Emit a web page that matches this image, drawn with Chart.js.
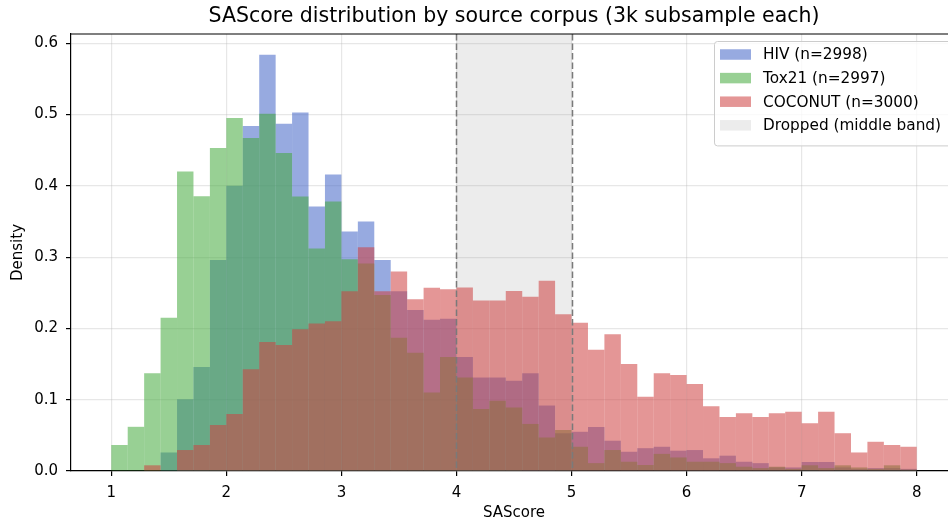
<!DOCTYPE html>
<html><head><meta charset="utf-8">
<script src="https://cdn.jsdelivr.net/npm/chart.js@4/dist/chart.umd.min.js"></script>
<style>html,body{margin:0;padding:0;overflow:hidden;background:#fff}</style>
</head><body>
<canvas id="c" width="960" height="523"></canvas>
<script>
// ---- data ----
const binStart = 1, binEnd = 8, binCount = 49;
const seriesLabels = ['HIV (n=2998)', 'Tox21 (n=2997)', 'COCONUT (n=3000)'];
const bandLabel = 'Dropped (middle band)';
const droppedBand = [4, 5];
const xTickValues = [1, 2, 3, 4, 5, 6, 7, 8];
const yTickValues = [0, 0.1, 0.2, 0.3, 0.4, 0.5, 0.6];

const hivValues = [
  0, 0, 0, 0.026, 0.1005, 0.146, 0.296, 0.400, 0.484, 0.584,
  0.487, 0.503, 0.371, 0.416, 0.336, 0.350, 0.296, 0.252, 0.226, 0.212,
  0.2135, 0.160, 0.131, 0.131, 0.1266, 0.137, 0.092, 0.053, 0.055, 0.0617,
  0.0425, 0.027, 0.032, 0.034, 0.0285, 0.0294, 0.0178, 0.0215, 0.013, 0.011,
  0.005, 0.005, 0.0126, 0.0126, 0.005, 0.003, 0.004, 0.004, 0.003
];
const tox21Values = [
  0.0365, 0.062, 0.137, 0.215, 0.420, 0.3855, 0.453, 0.495, 0.467, 0.501,
  0.446, 0.385, 0.312, 0.378, 0.297, 0.291, 0.247, 0.187, 0.166, 0.110,
  0.160, 0.131, 0.087, 0.0986, 0.089, 0.066, 0.047, 0.0575, 0.034, 0.011,
  0.0294, 0.013, 0.0084, 0.024, 0.019, 0.013, 0.013, 0.011, 0.006, 0.004,
  0.006, 0.003, 0.008, 0.004, 0.008, 0.005, 0.003, 0.008, 0.002
];
const coconutValues = [
  0, 0, 0.008, 0, 0.0294, 0.0365, 0.0645, 0.080, 0.1426, 0.181,
  0.1767, 0.199, 0.207, 0.210, 0.252, 0.314, 0.252, 0.280, 0.241, 0.257,
  0.255, 0.2575, 0.239, 0.239, 0.2524, 0.2445, 0.267, 0.220, 0.208, 0.170,
  0.192, 0.150, 0.104, 0.137, 0.1346, 0.122, 0.091, 0.0757, 0.081, 0.0757,
  0.081, 0.083, 0.067, 0.083, 0.053, 0.026, 0.041, 0.0365, 0.034
];

// ---- styles ----
const seriesColors = ['rgba(66,100,199,0.55)', 'rgba(68,170,60,0.55)', 'rgba(206,64,64,0.55)'];
const bandColor = 'rgba(128,128,128,0.15)';
const FONT = 'DejaVu Sans';
Chart.defaults.font.family = FONT;
Chart.defaults.color = '#000';

const binWidth = (binEnd - binStart) / binCount;
const centers = Array.from({length: binCount}, (_, i) => binStart + (i + 0.5) * binWidth);
const toPoints = vals => vals.map((v, i) => ({x: centers[i], y: v}));

const allValues = [hivValues, tox21Values, coconutValues];
const datasets = allValues.map((vals, k) => ({
  label: seriesLabels[k],
  data: toPoints(vals),
  backgroundColor: seriesColors[k],
  borderWidth: 0,
  inflateAmount: 0,
  barPercentage: 1,
  categoryPercentage: 1,
  grouped: false,
  order: 3 - k
}));

const bandPlugin = {
  id: 'band',
  beforeDatasetsDraw(chart) {
    const {ctx, chartArea, scales: {x}} = chart;
    const x0 = x.getPixelForValue(droppedBand[0]), x1 = x.getPixelForValue(droppedBand[1]);
    ctx.save();
    ctx.fillStyle = bandColor;
    ctx.fillRect(x0, chartArea.top, x1 - x0, chartArea.bottom - chartArea.top);
    ctx.restore();
  },
  afterDatasetsDraw(chart) {
    const {ctx, chartArea, scales: {x}} = chart;
    ctx.save();
    ctx.strokeStyle = '#7a7a7a';
    ctx.lineWidth = 1.5;
    ctx.setLineDash([6.5, 3]);
    droppedBand.forEach(v => {
      const px = Math.round(x.getPixelForValue(v)) + 0.5;
      ctx.beginPath();
      ctx.moveTo(px, chartArea.top);
      ctx.lineTo(px, chartArea.bottom);
      ctx.stroke();
    });
    ctx.restore();
  },
  afterDraw(chart) {
    const {ctx, chartArea} = chart;
    ctx.save();
    // top and right spines
    ctx.strokeStyle = '#000';
    ctx.lineWidth = 1.2;
    ctx.beginPath();
    ctx.moveTo(chartArea.left, chartArea.top);
    ctx.lineTo(chartArea.right, chartArea.top);
    ctx.lineTo(chartArea.right, chartArea.bottom);
    ctx.stroke();

    // legend
    const fs = 15.3;
    ctx.font = fs + 'px "' + FONT + '"';
    const items = seriesLabels.map((l, k) => ({label: l, color: seriesColors[k]}));
    items.push({label: bandLabel, color: bandColor});
    const maxW = Math.max(...items.map(it => ctx.measureText(it.label).width));
    const pad = 6, handleW = 31, handleH = 10.5, gap = 12, rowH = 23.6;
    const boxW = pad + handleW + gap + maxW + pad + 4;
    const boxH = pad * 2 + rowH * items.length - 2;
    const left = 714;
    const top = chartArea.top + 7;
    ctx.beginPath();
    if (ctx.roundRect) ctx.roundRect(left + 0.5, top + 0.5, boxW, boxH, 3); else ctx.rect(left + 0.5, top + 0.5, boxW, boxH);
    ctx.fillStyle = 'rgba(255,255,255,0.8)';
    ctx.fill();
    ctx.strokeStyle = '#cccccc';
    ctx.lineWidth = 1;
    ctx.stroke();
    ctx.textBaseline = 'middle';
    ctx.textAlign = 'left';
    items.forEach((it, k) => {
      const cy = top + 13.5 + k * rowH;
      ctx.fillStyle = it.color;
      ctx.fillRect(left + pad, cy - handleH / 2, handleW, handleH);
      ctx.fillStyle = '#000';
      ctx.fillText(it.label, left + pad + handleW + gap, cy + 1);
    });
    ctx.restore();
  }
};

const gridColor = 'rgba(176,176,176,0.3)';

new Chart(document.getElementById('c'), {
  type: 'bar',
  data: {datasets},
  plugins: [bandPlugin],
  options: {
    responsive: false,
    animation: false,
    layout: {padding: {left: 0, right: 3, top: 0, bottom: 0}},
    plugins: {
      legend: {display: false},
      tooltip: {enabled: false},
      title: {
        display: true,
        fullSize: false,
        text: 'SAScore distribution by source corpus (3k subsample each)',
        font: {family: FONT, size: 20.5, weight: 'normal'},
        color: '#000',
        padding: {top: 4, bottom: 5.4}
      }
    },
    scales: {
      x: {
        type: 'linear',
        min: 0.65, max: 8.35,
        offset: false,
        z: 1,
        grid: {color: gridColor, lineWidth: 1.2, offset: false, drawTicks: true, tickColor: '#000', tickLength: 5, tickWidth: 1.2},
        border: {color: '#000', width: 1.2},
        ticks: {font: {family: FONT, size: 15}, color: '#000', padding: 8, maxRotation: 0, autoSkip: false, callback: v => String(v)},
        title: {display: true, text: 'SAScore', font: {family: FONT, size: 15}, color: '#000', padding: {top: 0, bottom: 1}},
        afterBuildTicks: s => { s.ticks = xTickValues.map(v => ({value: v})); },
        afterFit: s => { s.height = 52; }
      },
      y: {
        type: 'linear',
        min: 0, max: 0.613,
        z: 1,
        grid: {color: gridColor, lineWidth: 1.2, drawTicks: true, tickColor: '#000', tickLength: 5, tickWidth: 1.2},
        border: {color: '#000', width: 1.2},
        ticks: {font: {family: FONT, size: 15}, color: '#000', padding: 8, autoSkip: false, callback: v => v.toFixed(1)},
        title: {display: true, text: 'Density', font: {family: FONT, size: 15}, color: '#000', padding: {top: 9, bottom: 0}},
        afterBuildTicks: s => { s.ticks = yTickValues.map(v => ({value: v})); },
        afterFit: s => { s.width = 71; }
      }
    }
  }
});
</script>
</body></html>
